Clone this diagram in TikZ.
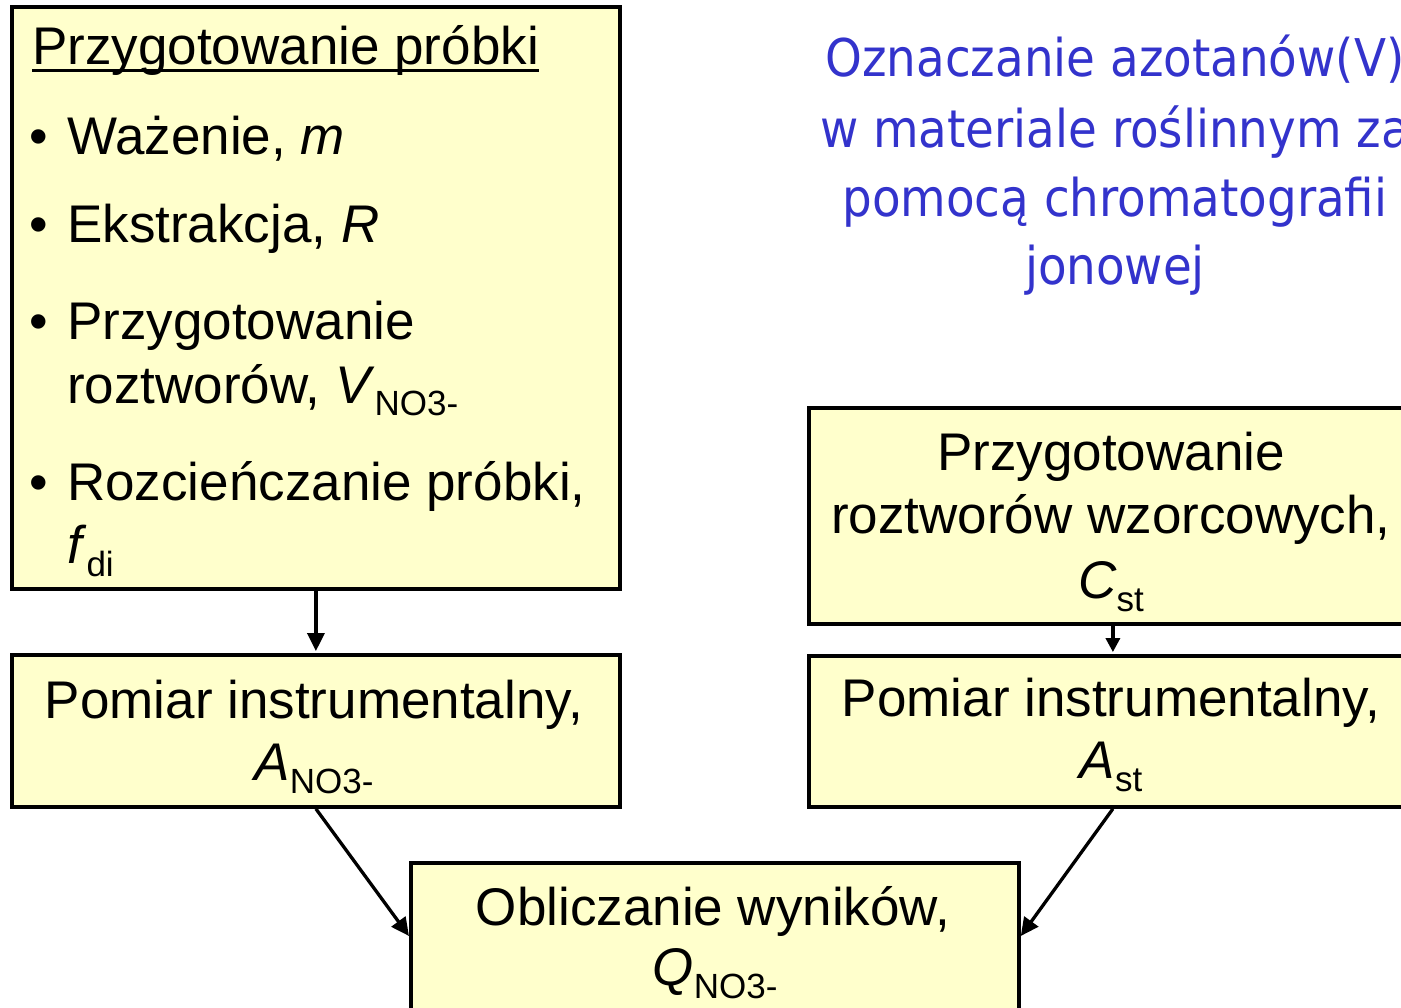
\documentclass[tikz,border=0pt]{standalone}
\usepackage{fontspec}
\setmainfont{Liberation Sans}
\newfontfamily\titlefont{DejaVu Sans Condensed}
\usetikzlibrary{arrows.meta}
\definecolor{boxfill}{HTML}{FFFFCC}
\definecolor{titleblue}{HTML}{3333CC}
\newcommand\mysub[1]{\raisebox{-13pt}{\fontsize{35}{35}\selectfont #1}}
\begin{document}
\begin{tikzpicture}[x=1pt,y=-1pt,
  box/.style={draw=black, line width=3.8pt, fill=boxfill, rectangle, inner sep=0pt, anchor=north west},
  txt/.style={font=\fontsize{53}{53}\selectfont, inner sep=0pt, anchor=base west},
  ctxt/.style={font=\fontsize{53}{53}\selectfont, inner sep=0pt, anchor=base},
  ttl/.style={font=\titlefont\fontsize{52}{52}\selectfont, text=titleblue, inner sep=0pt, anchor=base},
  arr/.style={line width=3.3pt, -{Triangle[length=18pt,width=17pt]}},
  sarr/.style={line width=3.3pt, -{Triangle[length=14pt,width=14pt]}}
]
\useasboundingbox (0,0) rectangle (1401,1008);
\fill[white] (0,0) rectangle (1401,1008);

% boxes
\node[box, minimum width=608pt, minimum height=582pt] (b1) at (10,5) {};
\node[box, minimum width=608pt, minimum height=152pt] (b2) at (10,653) {};
\node[box, minimum width=608pt, minimum height=216pt] (b3) at (807,406) {};
\node[box, minimum width=608pt, minimum height=151pt] (b4) at (807,654) {};
\node[box, minimum width=608pt, minimum height=200pt] (b5) at (409,861) {};

% box 1 text
\node[txt] (h) at (32,65) {Przygotowanie próbki};
\draw[line width=3pt] ([yshift=-6pt]h.base west) -- ([yshift=-6pt]h.base east);
\node[ctxt] (d1) at (39,155) {•};
\node[txt] (i1) at (67,155) {Ważenie, \textit{m}};
\node[ctxt] (d2) at (39,243) {•};
\node[txt] (i2) at (67,243) {Ekstrakcja, \textit{R}};
\node[ctxt] (d3) at (39,340) {•};
\node[txt] (i3a) at (67,340) {Przygotowanie};
\node[txt] (i3b) at (67,403) {roztworów, \textit{V}\mysub{NO3-}};
\node[ctxt] (d4) at (39,500) {•};
\node[txt] (i4a) at (67,500) {Rozcieńczanie próbki,};
\node[txt] (i4b) at (67,563) {\textit{f}\mysub{di}};

% box 2 text
\node[ctxt] (p1a) at (314,718) {Pomiar instrumentalny,};
\node[ctxt] (p1b) at (314,780) {\textit{A}\mysub{NO3-}};

% box 3 text
\node[ctxt] (w1) at (1111,470) {Przygotowanie};
\node[ctxt] (w2) at (1111,533) {roztworów wzorcowych,};
\node[ctxt] (w3) at (1111,598) {\textit{C}\mysub{st}};

% box 4 text
\node[ctxt] (p2a) at (1111,716) {Pomiar instrumentalny,};
\node[ctxt] (p2b) at (1111,778) {\textit{A}\mysub{st}};

% box 5 text
\node[ctxt] (o1) at (713,925) {Obliczanie wyników,};
\node[ctxt] (o2) at (715,985) {\textit{Q}\mysub{NO3-}};

% title
\node[ttl] (t1) at (1115,77) {Oznaczanie azotanów(V)};
\node[ttl] (t2) at (1115,148) {w materiale roślinnym za};
\node[ttl] (t3) at (1115,217) {pomocą chromatografii};
\node[ttl] (t4) at (1115,285) {jonowej};

% connectors
\draw[arr, shorten >=1.9pt] (b1.south) -- (b2.north);
\draw[sarr, shorten >=1.9pt] (b3.south) -- (b4.north);
\draw[arr] (b2.south) -- ([yshift=-75pt]b5.north west);
\draw[arr] (b4.south) -- ([yshift=-75pt]b5.north east);
\end{tikzpicture}
\end{document}
